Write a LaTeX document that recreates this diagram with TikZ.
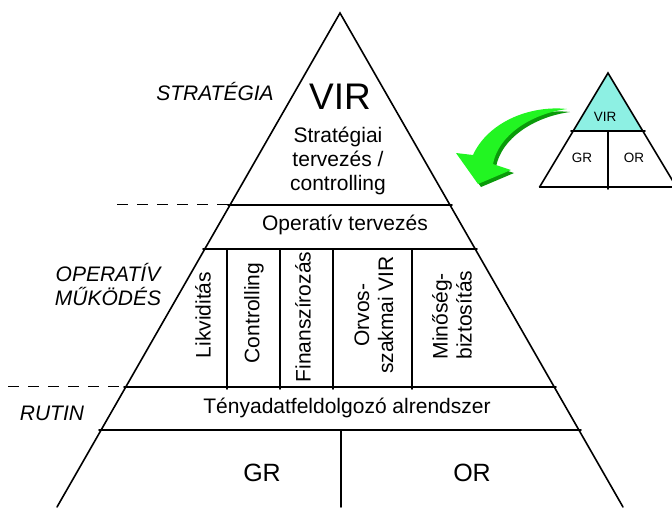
\documentclass[tikz,border=0pt]{standalone}
\usepackage{fontspec}
\setmainfont{Liberation Sans}
\definecolor{virfill}{HTML}{8DF0E3}
\definecolor{arrowlight}{HTML}{22F522}
\definecolor{arrowdark}{HTML}{0A9A0A}
\begin{document}
\begin{tikzpicture}[x=1pt,y=-1pt,
  edge/.style={line width=1.6pt, line cap=round},
  level/.style={line width=0.8pt, dash pattern=on 11pt off 9pt},
  lbl/.style={font=\fontsize{21}{24}\selectfont, inner sep=0pt, align=center},
  side/.style={font=\fontsize{21}{24}\selectfont\itshape, inner sep=0pt, align=center},
  col/.style={lbl, rotate=90},
  big/.style={font=\fontsize{25}{28}\selectfont, inner sep=0pt},
  small/.style={font=\fontsize{13.5}{16}\selectfont, inner sep=0pt}
]
\useasboundingbox (0,0) rectangle (672,507);
\clip (0,0) rectangle (672,507);

% main pyramid
\coordinate (apex) at (340,13);
\coordinate (bl) at (57,507);
\coordinate (br) at (623,507);
\draw[edge] (bl) -- (apex) -- (br);

% horizontal layers
\draw[edge] (228,205) -- (452,205);
\draw[edge] (203,249) -- (477,249);
\draw[edge] (124,387) -- (556,387);
\draw[edge] (99,430) -- (581,430);

% column dividers
\foreach \x in {227,280,333,412}
  \draw[edge] (\x,249) -- (\x,389);
\draw[edge] (341,430) -- (341,507);

% level markers
\draw[level] (117,204) -- (230,204);
\draw[level] (8,386) -- (122,386);

% texts inside the pyramid
\node[font=\fontsize{37}{40}\selectfont, inner sep=0pt] (vir) at (340,97) {VIR};
\node[lbl] (strat) at (338,161) {Stratégiai\\tervezés /\\controlling};
\node[lbl] (optv) at (345,225) {Operatív tervezés};
\node[col] (likv) at (203,315) {Likviditás};
\node[col] (contr) at (254,313) {Controlling};
\node[col] (fin) at (303,317) {Finanszírozás};
\node[col] (orv) at (374,315) {Orvos-\\szakmai VIR};
\node[col, align=left] (min) at (452,315) {Minőség-\\biztosítás};
\node[lbl] (teny) at (347,408) {Tényadatfeldolgozó alrendszer};
\node[big] (gr) at (262,473) {GR};
\node[big] (or) at (472,473) {OR};

% level names
\node[side] (lstrat) at (215,91) {STRATÉGIA};
\node[side] (lop) at (108,284) {OPERATÍV\\MŰKÖDÉS};
\node[side] (lrut) at (52,413) {RUTIN};

% curved green arrow with its shadow
\fill[arrowdark] (570,112) .. controls (533,108) and (491,125) .. (476,158)
  -- (459,156) -- (481,187) -- (514,173) -- (496,167)
  .. controls (501,139) and (533,117) .. (570,112) -- cycle;
\fill[arrowlight] (567,109) .. controls (530,105) and (488,122) .. (473,155)
  -- (456,153) -- (478,184) -- (511,170) -- (493,164)
  .. controls (498,136) and (530,114) .. (567,109) -- cycle;

% small pyramid
\coordinate (sapex) at (608,73);
\fill[virfill] (sapex) -- (573,131) -- (643,131) -- cycle;
\draw[edge] (539.6,187) -- (sapex) -- (676.4,187);
\draw[edge] (571,131) -- (645,131);
\draw[edge] (539.6,187) -- (676,187);
\draw[edge] (608,131) -- (608,189);
\node[small] (svir) at (605,117) {VIR};
\node[small] (sgr) at (582,158) {GR};
\node[small] (sor) at (634,158) {OR};
\end{tikzpicture}
\end{document}
